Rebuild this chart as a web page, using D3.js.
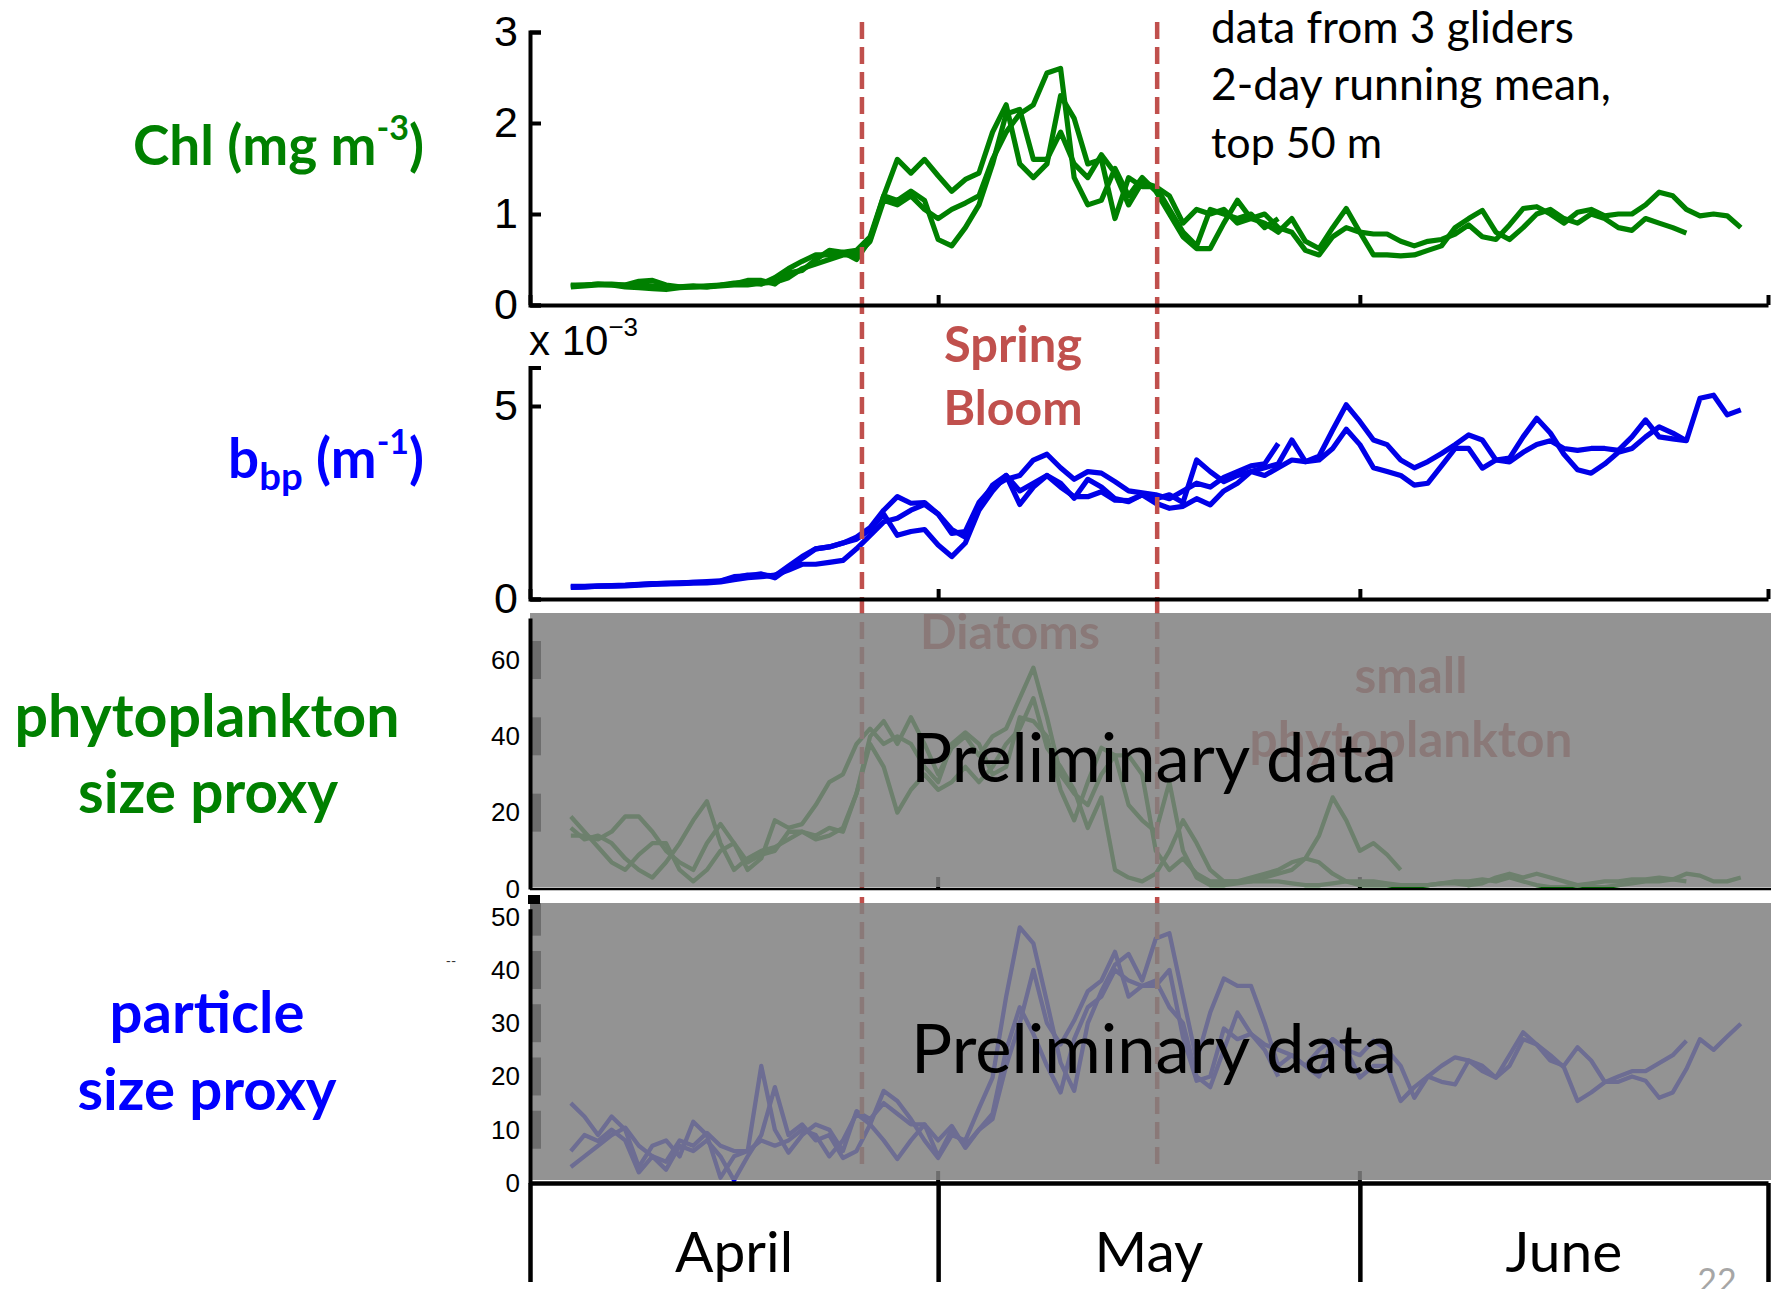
<!DOCTYPE html>
<html>
<head>
<meta charset="utf-8">
<script src="https://cdn.jsdelivr.net/npm/d3@7"></script>
<style>
  body { margin: 0; background: #fff; }
  svg { display: block; }
</style>
</head>
<body>
<div id="chart"></div>
<script>
/*******************************************
 *   glider time series, spring bloom      *
 *******************************************/

// x values are days counted from 1 April, one sample per day from startDay
const startDay = 3;
const months = ["April", "May", "June"];
const monthStarts = [0, 30, 61, 91];
const bloomEdges = [24.4, 46.1];

// tick labels
const chlTicks = [0, 1, 2, 3];
const bbpTicks = [0, 5];
const phytoTicks = [0, 20, 40, 60];
const particleTicks = [0, 10, 20, 30, 40, 50];

// Chl (mg m-3), 3 gliders
const chlG1 = [0.22, 0.22, 0.23, 0.23, 0.22, 0.26, 0.27, 0.22, 0.2, 0.2, 0.21, 0.22, 0.24, 0.25, 0.23, 0.3, 0.4, 0.48, 0.55, 0.55, 0.58, 0.6,
  0.75, 1.2, 1.6, 1.45, 1.6, 1.42, 1.25, 1.38, 1.45, 1.9, 2.2, 1.55, 1.4, 1.55, 2.3, 2.05, 1.55, 1.6, 0.95, 1.4, 1.3, 1.3, 1.05, 0.8, 0.65, 1.05, 1.0, 0.95, 1.0, 0.85, 0.95];
const chlG2 = [0.2, 0.21, 0.22, 0.22, 0.2, 0.19, 0.18, 0.17, 0.19, 0.2, 0.2, 0.21, 0.22, 0.22, 0.24, 0.25, 0.3, 0.4, 0.45, 0.5, 0.55, 0.55,
  0.7, 1.15, 1.1, 1.2, 1.05, 0.95, 1.05, 1.12, 1.2, 1.6, 1.9, 2.1, 2.2, 2.55, 2.6, 1.4, 1.1, 1.15, 1.5, 1.2, 1.4, 1.25, 1.0, 0.75, 0.62, 0.62, 0.9, 1.15, 0.95, 0.9, 0.8,
  0.95, 0.7, 0.62, 0.85, 1.06, 0.8, 0.55, 0.55, 0.54, 0.55, 0.6, 0.65, 0.85, 0.95, 1.04, 0.8, 0.72, 0.85, 1.0, 1.05, 0.95, 0.9, 1.0, 0.95, 0.85, 0.82, 0.95, 0.9, 0.85, 0.79];
const chlG3 = [0.21, 0.22, 0.23, 0.22, 0.22, 0.22, 0.21, 0.2, 0.2, 0.21, 0.2, 0.22, 0.23, 0.27, 0.27, 0.23, 0.35, 0.38, 0.5, 0.6, 0.58, 0.5,
  0.72, 1.2, 1.15, 1.25, 1.15, 0.72, 0.65, 0.85, 1.1, 1.55, 2.1, 2.15, 1.6, 1.6, 1.9, 1.55, 1.4, 1.65, 1.45, 1.1, 1.35, 1.3, 1.2, 0.9, 1.05, 1.0, 1.05, 0.9, 0.95, 1.0, 0.85,
  0.8, 0.6, 0.55, 0.75, 0.85, 0.8, 0.78, 0.78, 0.7, 0.65, 0.7, 0.72, 0.78, 0.88, 0.75, 0.72, 0.88, 1.06, 1.08, 1.0, 0.9, 1.02, 1.05, 0.98, 1.0, 1.0, 1.1, 1.24, 1.2, 1.05, 0.98, 1.0, 0.98, 0.85];

// bbp (x 10^-3 m-1)
const bbpG1 = [0.33, 0.33, 0.34, 0.35, 0.36, 0.38, 0.4, 0.4, 0.42, 0.43, 0.44, 0.46, 0.55, 0.62, 0.62, 0.6, 0.85, 1.1, 1.3, 1.35, 1.45, 1.6,
  1.85, 2.3, 2.65, 2.48, 2.5, 2.2, 1.7, 1.75, 2.5, 2.9, 3.1, 3.2, 3.6, 3.75, 3.4, 3.1, 3.3, 3.26, 3.04, 2.8, 2.75, 2.7, 2.6, 2.8, 3.0, 2.9, 3.15, 3.3, 3.45, 3.5, 4.03];
const bbpG2 = [0.3, 0.31, 0.33, 0.33, 0.34, 0.36, 0.38, 0.39, 0.4, 0.41, 0.42, 0.44, 0.5, 0.55, 0.58, 0.62, 0.75, 0.9, 0.9, 0.95, 1.0, 1.3,
  1.65, 2.0, 2.09, 2.3, 2.45, 2.2, 1.8, 1.6, 2.4, 2.95, 3.2, 2.45, 2.9, 3.2, 2.9, 2.65, 2.65, 2.78, 2.56, 2.55, 2.7, 2.48, 2.35, 2.4, 2.6, 2.44, 2.8, 3.0, 3.3, 3.2, 3.4,
  3.6, 3.56, 3.6, 3.9, 4.4, 4.0, 3.4, 3.3, 3.2, 2.95, 3.0, 3.45, 3.9, 3.9, 3.39, 3.6, 3.65, 4.2, 4.68, 4.3, 3.75, 3.35, 3.26, 3.5, 3.8, 3.9, 4.2, 4.46, 4.3, 4.1];
const bbpG3 = [0.31, 0.32, 0.33, 0.34, 0.35, 0.37, 0.39, 0.41, 0.41, 0.43, 0.45, 0.47, 0.58, 0.6, 0.65, 0.55, 0.8, 1.05, 1.3, 1.35, 1.45, 1.55,
  1.8, 2.2, 1.65, 1.75, 1.8, 1.4, 1.1, 1.45, 2.3, 2.8, 3.2, 2.8, 3.0, 3.2, 3.0, 2.61, 3.1, 2.9, 2.6, 2.52, 2.7, 2.6, 2.7, 2.5, 3.6, 3.3, 3.04, 3.2, 3.3, 3.4, 3.5,
  4.12, 3.56, 3.7, 4.38, 5.03, 4.6, 4.12, 4.0, 3.6, 3.4, 3.56, 3.77, 4.0, 4.25, 4.12, 3.6, 3.55, 3.8, 4.0, 4.1, 3.9, 3.85, 3.9, 3.9, 3.85, 4.2, 4.64, 4.2, 4.15, 4.1, 5.2, 5.28, 4.77, 4.9];

// phytoplankton size proxy
const phytoG1 = [19, 15, 11, 7, 5, 9, 12, 12, 5, 2, 5, 10, 12, 7, 9, 10, 15, 15, 13, 14, 16, 25,
  40, 44, 38, 45, 38, 30, 37, 40, 35, 40, 42, 50, 58, 45, 30, 25, 22, 30, 35, 35, 30, 10, 5, 8, 4, 2, 2, 2, 3, 4, 5,
  7, 8, 14, 24, 18, 10, 12, 9, 5];
const phytoG2 = [16, 13, 14, 12, 8, 5, 3, 7, 12, 18, 23, 12, 5, 8, 10, 11, 13, 15, 14, 16, 15, 25,
  38, 32, 20, 26, 30, 26, 28, 32, 28, 32, 38, 42, 50, 37, 32, 26, 16, 24, 5, 3, 2, 4, 10, 18, 12, 5, 2, 2, 2, 3, 4,
  5, 8, 7, 4, 2, 1, 1, 1, 0.5, 0.5, 1, 1.5, 2, 2, 2.5, 2, 3, 2, 1, 0.5, 0.5, 1, 1.5, 2, 2, 2.5, 2.5, 3, 2.5, 2];
const phytoG3 = [14, 14, 13, 15, 19, 19, 15, 10, 7, 5, 12, 17, 12, 5, 8, 18, 16, 17, 22, 28, 30, 38,
  42, 38, 40, 38, 32, 28, 38, 41, 38, 30, 32, 45, 44, 40, 26, 18, 28, 37, 35, 22, 18, 15, 28, 10, 3, 1, 1, 1.5, 2, 2, 2,
  1.5, 1, 1, 1.5, 2, 2, 2, 1.5, 1, 1, 1, 1.5, 1.5, 1, 1.5, 3, 4, 3, 4, 3, 2, 1, 0.5, 0.5, 1, 1.5, 2, 2, 2.5, 4, 3.5, 2, 2, 3];

// particle size proxy
const partG1 = [15, 12.5, 9, 12.5, 10, 3, 7, 8, 5, 11.5, 9, 1, 5, 6, 8, 7, 8, 10, 9, 5, 8, 13,
  11, 8, 4.5, 8, 11, 5, 10, 7, 10, 13, 25, 33, 28, 22, 17, 27, 33, 35, 40, 38, 37, 38, 33, 30, 20, 18, 25, 32, 28, 25, 20];
const partG2 = [6, 9, 7.9, 10, 8, 2, 5, 2.5, 7, 6, 8, 5, 0.5, 5, 9, 18, 9, 11, 8, 9, 4.7, 6,
  11, 17.3, 15.4, 12, 8, 4.7, 9, 8, 14, 19.8, 35, 48, 45, 34, 22.6, 17.3, 30, 36, 41, 43, 38, 45.9, 46.9, 35, 23, 32, 38.4, 37, 37, 30, 22,
  24, 22, 25, 27, 25, 19.8, 22, 22, 15.4, 18, 20, 19, 18.5, 23, 22, 19.8, 24, 28.3, 26, 24, 21.7, 15.4, 17, 18.9, 20, 21, 21, 22.5, 24, 26.7];
const partG3 = [3, 5, 7, 9, 10.4, 7, 5, 4, 8, 7, 9.4, 7, 6, 6, 22, 10, 5.7, 9, 11, 10, 6, 13.5,
  12, 15, 13, 11, 11, 8, 10.7, 6.6, 10, 12, 22, 30, 40, 30, 26, 30.5, 36, 38, 43.4, 35, 37, 37, 40, 27.4, 19.2, 20, 29, 27, 28, 26, 25,
  24, 22, 20, 27, 25, 24, 26.7, 25, 22, 16, 20, 22, 23.6, 23, 21, 19.8, 22, 27, 26, 23, 22, 25.5, 23, 19, 19, 20, 19.2, 16, 17, 21.4, 27, 25, 27.5, 29.9];

const W = 1771, H = 1289;
const red = "#c0504d";
const tickFontFamily = "'Liberation Sans', Arial, sans-serif";
const textFontFamily = "Lato, 'Open Sans', sans-serif";

const svg = d3.select("#chart").append("svg")
    .attr("width", W)
    .attr("height", H);

// Layers: data under dashed lines under grey shading under axes and text
const gLines = svg.append("g");
const gBloom = svg.append("g");
const gShade = svg.append("g");
const gAxes = svg.append("g");
const gText = svg.append("g");

// Shared time axis
const x = d3.scaleLinear().domain([0, 91]).range([530, 1768]);

const panels = [
    { series: [chlG1, chlG2, chlG3], domain: [0, 3], range: [305, 32], ticks: chlTicks,
      color: "#008000", lw: 5.2, tickFont: 43, shade: null },
    { series: [bbpG1, bbpG2, bbpG3], domain: [0, 6], range: [599, 367.4], ticks: bbpTicks,
      color: "#0000e8", lw: 5.2, tickFont: 43, shade: null },
    { series: [phytoG1, phytoG2, phytoG3], domain: [0, 71], range: [889, 618], ticks: phytoTicks,
      color: "#008000", lw: 4.3, tickFont: 26, shade: [613, 887] },
    { series: [partG1, partG2, partG3], domain: [0, 51.5], range: [1183, 908.7], ticks: particleTicks,
      color: "#0000ff", lw: 4.3, tickFont: 26, shade: [903, 1180] }
];

function toPoints(values) {
    return values.map((v, i) => ({ day: startDay + i, v: v }));
}

function styleAxis(g, w) {
    g.select(".domain").attr("stroke", "#000").attr("stroke-width", w);
    g.selectAll(".tick line").attr("stroke", "#000").attr("stroke-width", w);
}

panels.forEach((p, pi) => {
    const y = d3.scaleLinear().domain(p.domain).range(p.range);

    const line = d3.line()
        .x(d => x(d.day))
        .y(d => y(d.v));

    // Thick tick blocks of the shaded panels sit under the shading
    if (p.shade) {
        gLines.selectAll(null)
            .data(p.ticks.filter(t => t > 0))
            .enter().append("rect")
            .attr("x", x(0))
            .attr("y", d => Math.max(y(d) - 19, p.shade[0]))
            .attr("width", 11)
            .attr("height", d => y(d) + 19 - Math.max(y(d) - 19, p.shade[0]))
            .attr("fill", "#000");

        // small month ticks inside the shaded panels
        gLines.selectAll(null)
            .data(monthStarts.slice(1, 3))
            .enter().append("line")
            .attr("x1", d => x(d)).attr("x2", d => x(d))
            .attr("y1", y(0)).attr("y2", y(0) - 12)
            .attr("stroke", "#000").attr("stroke-width", 4);
    }

    // Draw the three glider series
    gLines.selectAll(null)
        .data(p.series.map(toPoints))
        .enter().append("path")
        .attr("d", line)
        .attr("fill", "none")
        .attr("stroke", p.color)
        .attr("stroke-width", p.lw)
        .attr("stroke-linejoin", "round");

    if (p.shade) {
        gShade.append("rect")
            .attr("x", x(0))
            .attr("y", p.shade[0])
            .attr("width", W - x(0))
            .attr("height", p.shade[1] - p.shade[0])
            .attr("fill", "#808080")
            .attr("fill-opacity", 0.85);
    }

    // Y axis, ticks pointing inwards
    const yAxis = d3.axisLeft(y)
        .tickValues(p.ticks)
        .tickSizeOuter(0)
        .tickSize(p.shade ? 0 : -11)
        .tickPadding(p.shade ? 10 : 12)
        .tickFormat(d3.format("d"));

    const gy = gAxes.append("g")
        .attr("transform", `translate(${x(0)},0)`)
        .call(yAxis);
    styleAxis(gy, 4);
    gy.selectAll(".tick text")
        .attr("font-size", p.tickFont)
        .attr("font-family", tickFontFamily)
        .attr("fill", "#000");

    // X axis line
    if (pi < 2) {
        const gx = gAxes.append("g")
            .attr("transform", `translate(0,${y(0)})`)
            .call(d3.axisBottom(x).tickValues(monthStarts).tickSize(-10).tickSizeOuter(0).tickFormat(""));
        styleAxis(gx, 4);
    } else if (pi === 2) {
        gAxes.append("line")
            .attr("x1", x(0)).attr("x2", W)
            .attr("y1", y(0)).attr("y2", y(0))
            .attr("stroke", "#000").attr("stroke-width", 2.5);
    } else {
        const gx = gAxes.append("g")
            .attr("transform", `translate(0,${y(0)})`)
            .call(d3.axisBottom(x).tickValues(monthStarts).tickSize(99).tickSizeOuter(0).tickFormat(""));
        styleAxis(gx, 4.5);

        // black cap on top of the lowest axis
        gAxes.append("rect")
            .attr("x", x(0) - 2).attr("y", 895)
            .attr("width", 12).attr("height", 9)
            .attr("fill", "#000");
    }
});

// Spring bloom limits
gBloom.selectAll(null)
    .data(bloomEdges)
    .enter().append("line")
    .attr("x1", d => x(d)).attr("x2", d => x(d))
    .attr("y1", 22).attr("y2", 1172)
    .attr("stroke", red)
    .attr("stroke-width", 4.5)
    .attr("stroke-dasharray", "17,8");

// Scale width of a text so it spans a given number of pixels
function fitWidth(sel, width) {
    sel.each(function () {
        const fs = parseFloat(this.getAttribute("font-size"));
        const len = this.getComputedTextLength();
        this.setAttribute("font-size", (fs * width / len).toFixed(2));
    });
    return sel;
}

function addText(layer, str, xPos, yPos, opts) {
    const t = layer.append("text")
        .attr("x", xPos)
        .attr("y", yPos)
        .attr("text-anchor", opts.anchor || "middle")
        .attr("font-family", opts.family || textFontFamily)
        .attr("font-weight", opts.weight || "normal")
        .attr("font-size", opts.size || 40)
        .attr("fill", opts.fill || "#000");
    if (typeof str === "string") {
        t.text(str);
    } else {
        // list of [text, kind] parts, kind = sup / sub / null
        str.forEach(([s, kind]) => {
            const ts = t.append("tspan").text(s);
            if (kind === "sup") ts.attr("font-size", "0.62em").attr("dy", "-0.72em");
            if (kind === "sub") ts.attr("font-size", "0.7em").attr("dy", "0.32em");
            if (kind === "back-sup") ts.attr("dy", "0.45em");
            if (kind === "back-sub") ts.attr("dy", "-0.22em");
        });
    }
    if (opts.width) fitWidth(t, opts.width);
    return t;
}

// Labels on the left
addText(gText, [["Chl (mg m", null], ["-3", "sup"], [")", "back-sup"]], 424, 165,
    { anchor: "end", weight: "bold", fill: "#008000", size: 46, width: 291 });
addText(gText, [["b", null], ["bp", "sub"], [" (m", "back-sub"], ["-1", "sup"], [")", "back-sup"]], 424, 478,
    { anchor: "end", weight: "bold", fill: "#0000ff", size: 46, width: 196 });
addText(gText, "phytoplankton", 207, 737, { weight: "bold", fill: "#008000", size: 56, width: 385 });
addText(gText, "size proxy", 208, 813, { weight: "bold", fill: "#008000", size: 56, width: 260 });
addText(gText, "particle", 207, 1033, { weight: "bold", fill: "#0000ff", size: 56, width: 195 });
addText(gText, "size proxy", 207, 1110, { weight: "bold", fill: "#0000ff", size: 56, width: 259 });

// Multiplier of the bbp axis
addText(gText, [["x 10", null], ["\u22123", "sup"]], 529, 355,
    { anchor: "start", family: tickFontFamily, size: 42 });

// Notes in the top panel
addText(gText, "data from 3 gliders", 1211, 43, { anchor: "start", size: 40, width: 363 });
addText(gText, "2-day running mean,", 1211, 100, { anchor: "start", size: 40, width: 400 });
addText(gText, "top 50 m", 1211, 158, { anchor: "start", size: 40, width: 171 });

addText(gText, "Spring", 1013, 362, { weight: "bold", fill: red, size: 48, width: 138 });
addText(gText, "Bloom", 1013, 425, { weight: "bold", fill: red, size: 48, width: 139 });

// Labels that sit below the grey shading
addText(gLines, "Diatoms", 1010, 649, { weight: "bold", fill: red, size: 48, width: 180 });
addText(gLines, "small", 1411, 693, { weight: "bold", fill: red, size: 48, width: 113 });
addText(gLines, "phytoplankton", 1411, 757, { weight: "bold", fill: red, size: 48, width: 323 });

addText(gText, "Preliminary data", 1154, 782, { size: 70, width: 486 });
addText(gText, "Preliminary data", 1154, 1073, { size: 70, width: 486 });

// Month names under the time axis
const monthSize = parseFloat(addText(gText, months[0], x((monthStarts[0] + monthStarts[1]) / 2), 1272,
    { size: 60, width: 118 }).attr("font-size"));
months.slice(1).forEach((m, i) => {
    addText(gText, m, x((monthStarts[i + 1] + monthStarts[i + 2]) / 2), 1272, { size: monthSize });
});

// slide number and a stray mark
addText(gText, "22", 1717, 1293, { size: 34, fill: "#a6a6a6" });
addText(gText, "--", 451, 966, { size: 14, fill: "#333" });
</script>
</body>
</html>
